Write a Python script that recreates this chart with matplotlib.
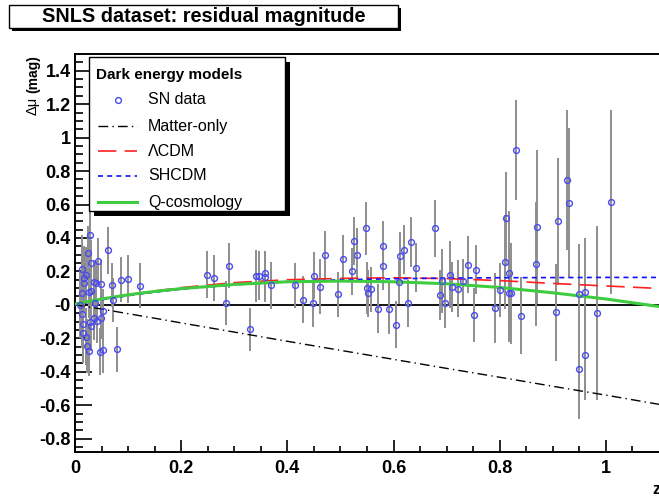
import numpy as np
import matplotlib
matplotlib.use("Agg")
import matplotlib.pyplot as plt
from matplotlib.patches import Rectangle
from matplotlib.lines import Line2D

plt.rcParams['font.family'] = ['Liberation Sans', 'DejaVu Sans']

# -----------------------
# Data
# -----------------------
sn_z = [0.009, 0.013, 0.014, 0.014, 0.015, 0.016, 0.017, 0.017, 0.020, 0.020,
        0.023, 0.025, 0.026, 0.027, 0.028, 0.028, 0.030, 0.030, 0.031, 0.035,
        0.036, 0.038, 0.039, 0.042, 0.043, 0.047, 0.049, 0.049, 0.052, 0.053,
        0.062, 0.070, 0.072, 0.079, 0.087, 0.100, 0.123,
        0.248, 0.262, 0.284, 0.290, 0.330, 0.340, 0.346, 0.357, 0.357, 0.370,
        0.415, 0.430, 0.448, 0.450, 0.461, 0.470, 0.496, 0.504, 0.521, 0.526,
        0.532, 0.548, 0.550, 0.552, 0.557, 0.570, 0.581, 0.581, 0.592, 0.604,
        0.610, 0.613, 0.620, 0.627, 0.633, 0.643, 0.679, 0.687, 0.691, 0.696,
        0.707, 0.711, 0.721, 0.730, 0.741, 0.752, 0.756, 0.791, 0.800, 0.810,
        0.811, 0.818, 0.818, 0.822, 0.830, 0.840, 0.868, 0.870, 0.906, 0.910,
        0.927, 0.930, 0.950, 0.950, 0.960, 0.960, 0.983, 1.010]
sn_dmu = [0.00, 0.07, 0.217, -0.056, -0.112, -0.166, 0.163, 0.13, 0.178, -0.19,
          -0.245, 0.31, -0.277, 0.074, 0.42, -0.10, 0.25, -0.128, 0.084, -0.078,
          0.138, 0.012, 0.132, -0.096, 0.26, -0.28, 0.126, -0.076, -0.038, -0.27,
          0.325, 0.118, 0.028, -0.267, 0.151, 0.154, 0.114,
          0.18, 0.16, 0.012, 0.233, -0.146, 0.172, 0.174, 0.193, 0.166, 0.118,
          0.118, 0.03, 0.01, 0.174, 0.108, 0.30, 0.064, 0.277, 0.20, 0.383,
          0.30, 0.457, 0.10, 0.068, 0.092, -0.022, 0.35, 0.233, -0.022, -0.12,
          0.138, 0.29, 0.33, 0.01, 0.377, 0.223, 0.457, 0.06, 0.142, 0.01,
          0.18, 0.106, 0.096, 0.142, 0.24, -0.06, 0.21, -0.018, 0.088, 0.257,
          0.517, 0.193, 0.068, 0.068, 0.924, -0.066, 0.244, 0.463, -0.044, 0.50,
          0.747, 0.61, 0.066, -0.385, 0.078, -0.30, -0.048, 0.617]
sn_err = [0.20, 0.22, 0.20, 0.20, 0.21, 0.18, 0.19, 0.17, 0.17, 0.17,
          0.16, 0.16, 0.15, 0.15, 0.18, 0.15, 0.14, 0.15, 0.14, 0.13,
          0.13, 0.13, 0.13, 0.13, 0.14, 0.14, 0.14, 0.13, 0.13, 0.14,
          0.14, 0.13, 0.13, 0.135, 0.135, 0.145, 0.135,
          0.14, 0.14, 0.13, 0.135, 0.13, 0.155, 0.145, 0.13, 0.15, 0.14,
          0.135, 0.14, 0.14, 0.14, 0.165, 0.14, 0.135, 0.14, 0.14, 0.145,
          0.16, 0.16, 0.155, 0.14, 0.135, 0.145, 0.15, 0.145, 0.15, 0.14,
          0.13, 0.145, 0.145, 0.14, 0.15, 0.145, 0.17, 0.15, 0.19, 0.15,
          0.20, 0.15, 0.17, 0.135, 0.17, 0.16, 0.145, 0.21, 0.16, 0.28,
          0.28, 0.37, 0.29, 0.30, 0.30, 0.23, 0.37, 0.46, 0.29, 0.38,
          0.42, 0.45, 0.30, 0.30, 0.32, 0.27, 0.52, 0.55]

model_z = [0, 0.05, 0.1, 0.15, 0.2, 0.3, 0.4, 0.5, 0.6, 0.7, 0.8, 0.9, 1.0, 1.1]
matter_only = [0, -0.025, -0.053, -0.08, -0.108, -0.163, -0.218, -0.272,
               -0.326, -0.38, -0.433, -0.487, -0.54, -0.595]
lcdm = [0, 0.033, 0.06, 0.083, 0.103, 0.133, 0.150, 0.158, 0.162, 0.157,
        0.145, 0.128, 0.113, 0.098]
shcdm = [0, 0.03, 0.055, 0.076, 0.094, 0.12, 0.138, 0.150, 0.156, 0.160,
         0.162, 0.163, 0.164, 0.164]
q_cosmo = [0.005, 0.035, 0.06, 0.08, 0.097, 0.122, 0.138, 0.142, 0.138, 0.126,
           0.104, 0.072, 0.035, -0.01]

y_ticks = [-0.8, -0.6, -0.4, -0.2, 0, 0.2, 0.4, 0.6, 0.8, 1, 1.2, 1.4]
y_ticklabels = ['-0.8', '-0.6', '-0.4', '-0.2', '-0', '0.2', '0.4', '0.6',
                '0.8', '1', '1.2', '1.4']
x_ticks = [0, 0.2, 0.4, 0.6, 0.8, 1.0]
x_ticklabels = ['0', '0.2', '0.4', '0.6', '0.8', '1']

# -----------------------
# Figure
# -----------------------
W, H = 659, 497
fig = plt.figure(figsize=(W / 100, H / 100), dpi=100)
ax = fig.add_axes([75 / W, 1 - 452 / H, 584 / W, 398 / H])

c_err = '#8e8e8e'
c_pt = '#4a4af0'
c_red = '#ff2020'
c_blue = '#1010ff'
c_green = '#40cc40'

ax.axhline(0, color='black', lw=1.3, zorder=2)
ax.errorbar(sn_z, sn_dmu, yerr=sn_err, fmt='none', ecolor=c_err, elinewidth=1.4,
            capsize=0, zorder=3)
ax.plot(model_z, matter_only, color='black', lw=1.0, dashes=(7, 3, 1, 3), zorder=4)
ax.plot(model_z, lcdm, color=c_red, lw=1.2, dashes=(11, 5), zorder=4)
ax.plot(model_z, shcdm, color=c_blue, lw=1.2, dashes=(3, 2.5), zorder=4)
ax.plot(model_z, q_cosmo, color=c_green, lw=2.2, zorder=5)
ax.plot(sn_z, sn_dmu, 'o', mfc='none', mec=c_pt, ms=4.2, mew=1.0, zorder=6)

ax.set_xlim(0, 1.1)
ax.set_ylim(-0.88, 1.5)
ax.set_xticks(x_ticks)
ax.set_xticklabels(x_ticklabels)
ax.set_yticks(y_ticks)
ax.set_yticklabels(y_ticklabels)
ax.set_xticks(np.arange(0.05, 1.1, 0.05), minor=True)
ax.set_yticks(np.arange(-0.85, 1.5, 0.05), minor=True)
ax.tick_params(axis='both', which='both', direction='in', top=False, right=False,
               width=1.2, labelsize=13)
ax.tick_params(axis='x', which='major', length=9, pad=6)
ax.tick_params(axis='x', which='minor', length=4.5)
ax.tick_params(axis='y', which='major', length=12, pad=3)
ax.tick_params(axis='y', which='minor', length=6)
for lab in ax.get_xticklabels() + ax.get_yticklabels():
    lab.set_fontweight('bold')
for s in ax.spines.values():
    s.set_linewidth(1.4)
ax.spines['right'].set_visible(False)

# axis titles (ROOT style: y title flush with top of the axis)
fig.text(33 / W, 1 - 55 / H, '(mag)', rotation=90, ha='center', va='top',
         fontsize=10, fontweight='bold')
fig.text(33 / W, 1 - 97 / H, 'Δμ', rotation=90, ha='center', va='top',
         fontsize=10.5)
fig.text(652 / W, 1 - 490 / H, 'z', ha='left', va='center', fontsize=12,
         fontweight='bold')

# boxes with a shadow, like ROOT's TPave
def shadow_box(x0, y0, x1, y1, off):
    fig.patches.append(Rectangle((x0 / W + off / W, 1 - y1 / H - off / H),
                                 (x1 - x0) / W, (y1 - y0) / H,
                                 transform=fig.transFigure, fc='black', ec='none',
                                 zorder=10))
    fig.patches.append(Rectangle((x0 / W, 1 - y1 / H), (x1 - x0) / W, (y1 - y0) / H,
                                 transform=fig.transFigure, fc='white', ec='black',
                                 lw=1.0, zorder=11))

shadow_box(9, 5, 398, 28, 3)
fig.text(204 / W, 1 - 17 / H, 'SNLS dataset: residual magnitude', ha='center',
         va='center', fontsize=14.3, fontweight='bold', zorder=12)

# legend
shadow_box(89, 57, 285, 211, 5)
fig.text(96 / W, 1 - 75 / H, 'Dark energy models', ha='left', va='center',
         fontsize=11, fontweight='bold', zorder=12)
leg_labels = ['SN data', 'Matter-only', 'ΛCDM', 'SHCDM', 'Q-cosmology']
leg_y = [100, 126, 151, 176, 202]
for lab, yy in zip(leg_labels, leg_y):
    fig.text(148 / W, 1 - yy / H, lab, ha='left', va='center', fontsize=11.5,
             zorder=12)
xs = [98 / W, 137 / W]
fig.lines.append(Line2D([118 / W], [1 - leg_y[0] / H], marker='o', mfc='none',
                        mec=c_pt, ms=4.2, mew=1.0, transform=fig.transFigure,
                        zorder=12))
fig.lines.append(Line2D(xs, [1 - leg_y[1] / H] * 2, color='black', lw=1.0,
                        dashes=(7, 3, 1, 3), transform=fig.transFigure, zorder=12))
fig.lines.append(Line2D(xs, [1 - leg_y[2] / H] * 2, color=c_red, lw=1.2,
                        dashes=(11, 5), transform=fig.transFigure, zorder=12))
fig.lines.append(Line2D(xs, [1 - leg_y[3] / H] * 2, color=c_blue, lw=1.2,
                        dashes=(3, 2.5), transform=fig.transFigure, zorder=12))
fig.lines.append(Line2D(xs, [1 - leg_y[4] / H] * 2, color=c_green, lw=2.2,
                        transform=fig.transFigure, zorder=12))

fig.savefig('out.png', dpi=100)
